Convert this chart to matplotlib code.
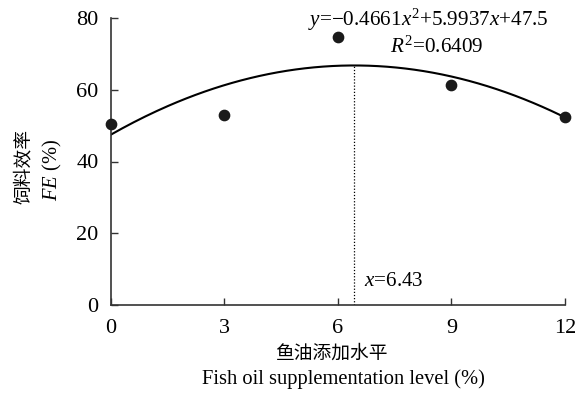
import matplotlib
matplotlib.use('Agg')
import matplotlib.pyplot as plt
import numpy as np

plt.rcParams['font.family'] = ['Liberation Serif', 'Noto Sans CJK SC']
plt.rcParams['mathtext.fontset'] = 'custom'
plt.rcParams['mathtext.rm'] = 'Liberation Serif'
plt.rcParams['mathtext.it'] = 'Liberation Serif:italic'

# datos
nivel = [0, 3, 6, 9, 12]
fe = [50.4, 53.0, 74.8, 61.3, 52.3]
coef = [-0.4661, 5.9937, 47.5]  # ajuste cuadratico
x_opt = 6.43
r2 = 0.6409

fig = plt.figure(figsize=(5.82, 4.0), dpi=100)
ax = fig.add_axes([0.1907, 0.2375, 0.78, 0.7175])

xs = np.linspace(0, 12, 200)
ax.plot(xs, np.polyval(coef, xs), color='black', lw=1.5, zorder=2)
ax.scatter(nivel, fe, s=55, color='#1a1a1a', zorder=3, clip_on=False)
ax.plot([x_opt, x_opt], [0, np.polyval(coef, x_opt)], color='black', lw=0.9, ls=(0, (1, 1.5)))

ax.set_xlim(0, 12)
ax.set_ylim(0, 80)
ax.set_xticks([0, 3, 6, 9, 12])
ax.set_yticks([0, 20, 40, 60, 80])
ax.tick_params(direction='in', labelsize=16, length=5, width=1, color='#333333')
ax.tick_params(axis='x', pad=10)
ax.tick_params(axis='y', pad=9)
for s in ['top', 'right']:
    ax.spines[s].set_visible(False)
for s in ['left', 'bottom']:
    ax.spines[s].set_linewidth(1.2)
    ax.spines[s].set_color('#333333')

ax.text(8.4, 79.4, r'$y$=−0.4661$x^2$+5.9937$x$+47.5', fontsize=15.2, ha='center', va='center')
ax.text(8.6, 71.8, r'$R^2$=0.6409', fontsize=15.2, ha='center', va='center')
ax.text(6.7, 6.6, r'$x$=6.43', fontsize=15.2, ha='left', va='center')

fig.text(0.571, 0.118, '鱼油添加水平', fontsize=13.5, ha='center', va='center', family='Noto Sans CJK SC')
fig.text(0.59, 0.052, 'Fish oil supplementation level (%)', fontsize=14.8, ha='center', va='center')
fig.text(0.04, 0.585, '饲料效率', fontsize=13.5, rotation=90, ha='center', va='center', family='Noto Sans CJK SC')
fig.text(0.09, 0.575, r'$FE$ (%)', fontsize=14.8, rotation=90, ha='center', va='center')

fig.savefig('out.png', dpi=100)
